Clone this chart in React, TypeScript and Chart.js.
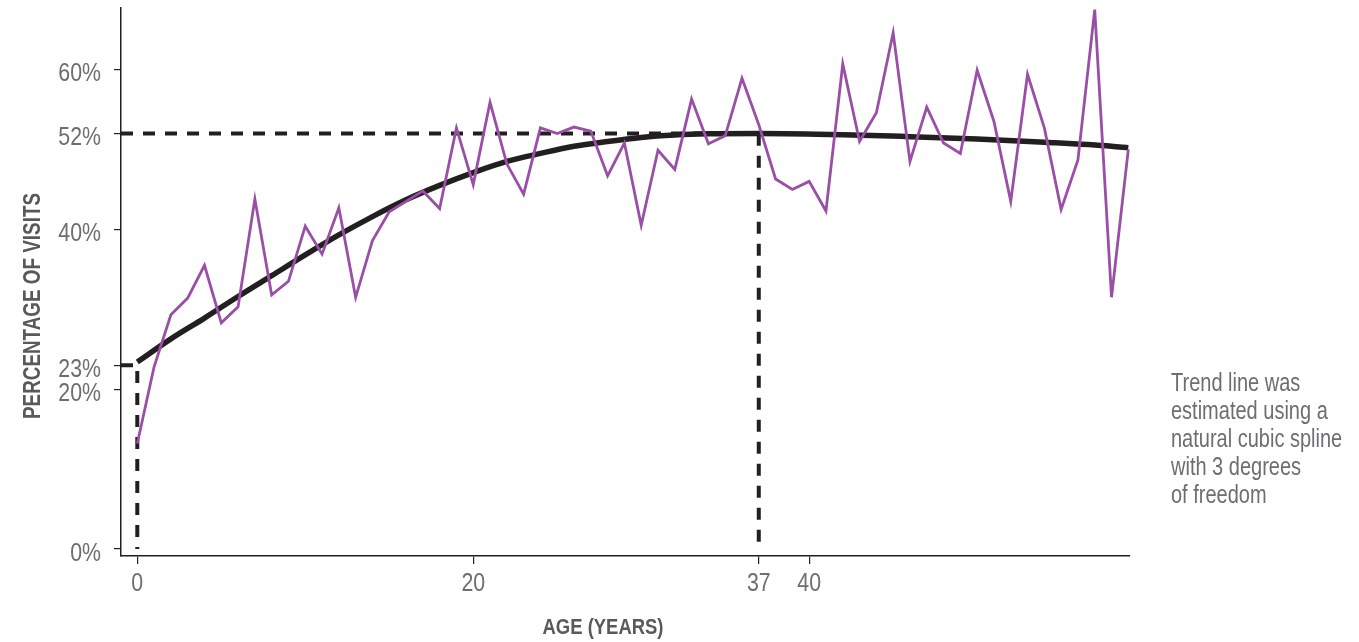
import React, { useEffect, useRef } from 'react';
import { Chart, registerables } from 'chart.js';

Chart.register(...registerables);

// ---- data ----
const ages = [
  0, 1, 2, 3, 4, 5, 6, 7, 8, 9, 10, 11, 12, 13, 14, 15, 16, 17, 18, 19,
  20, 21, 22, 23, 24, 25, 26, 27, 28, 29, 30, 31, 32, 33, 34, 35, 36, 37, 38, 39,
  40, 41, 42, 43, 44, 45, 46, 47, 48, 49, 50, 51, 52, 53, 54, 55, 56, 57, 58, 59,
];
const visitPct = [
  13.2, 22.8, 29.3, 31.4, 35.5, 28.3, 30.3, 43.8, 31.8, 33.5,
  40.4, 36.9, 42.7, 31.5, 38.6, 42.2, 43.5, 44.8, 42.6, 52.7,
  45.6, 55.9, 48.2, 44.4, 52.7, 52.0, 52.8, 52.3, 46.7, 50.8,
  40.5, 49.9, 47.5, 56.3, 50.7, 51.7, 58.9, 53.1, 46.3, 45.0,
  46.0, 42.3, 60.7, 51.0, 54.6, 64.6, 48.5, 55.3, 50.8, 49.5,
  59.9, 53.5, 43.5, 59.4, 52.7, 42.5, 48.7, 67.5, 31.5, 50.0,
];
const trendAges = [0, 2, 4, 6, 8, 10, 12, 14, 16, 18, 20, 22, 24, 26, 28, 30, 32, 34, 37, 42, 46, 50, 54, 58, 59];
const trendPct = [23.4, 26.3, 28.9, 31.6, 34.2, 36.8, 39.3, 41.6, 43.7, 45.5, 47.1, 48.5, 49.5, 50.4, 51.0, 51.5, 51.8, 51.95, 52.0, 51.85, 51.6, 51.3, 50.9, 50.4, 50.2];

const xTickValues = [0, 20, 37, 40];
const yTickValues = [0, 20, 23, 40, 52, 60];
const startAge = 0;
const startPct = 23;
const peakAge = 37;
const peakPct = 52;

const xTitle = 'AGE (YEARS)';
const yTitle = 'PERCENTAGE OF VISITS';
const noteLines = ['Trend line was', 'estimated using a', 'natural cubic spline', 'with 3 degrees', 'of freedom'];

// ---- style ----
const FONT = "'Liberation Sans', Arial, sans-serif";
const NARROW = 0.82;
const INK = '#231f20';
const PURPLE = '#9a4fa6';
const TICK_GREY = '#6d6e71';
const TITLE_GREY = '#58595b';
const X_MIN = -0.97;
const X_MAX = 59.1;
const Y_MIN = -0.875;
const Y_MAX = 67.7;

function narrowText(ctx: any, text: string, x: number, y: number, align: string, sx = NARROW) {
  ctx.save();
  ctx.translate(x, y);
  ctx.scale(sx, 1);
  ctx.textAlign = align;
  ctx.fillText(text, 0, 0);
  ctx.restore();
}

const textPlugin = {
  id: 'textPlugin',
  afterDraw(chart: any) {
    const ctx = chart.ctx;
    const xs = chart.scales.x;
    const ys = chart.scales.y;
    ctx.save();
    ctx.textBaseline = 'alphabetic';
    // tick labels
    ctx.fillStyle = TICK_GREY;
    ctx.font = `26px ${FONT}`;
    yTickValues.forEach((v) => {
      const py = ys.getPixelForValue(v);
      narrowText(ctx, `${v}%`, 101, py + 11.5, 'right');
    });
    xTickValues.forEach((v) => {
      const px = xs.getPixelForValue(v);
      narrowText(ctx, String(v), px, 591, 'center');
    });
    // x title
    ctx.fillStyle = TITLE_GREY;
    ctx.font = `bold 22.5px ${FONT}`;
    narrowText(ctx, xTitle, 603, 634, 'center');
    // y title
    ctx.font = `bold 23px ${FONT}`;
    ctx.save();
    ctx.translate(40, 306);
    ctx.rotate(-Math.PI / 2);
    narrowText(ctx, yTitle, 0, 0, 'center');
    ctx.restore();
    // note
    ctx.fillStyle = TICK_GREY;
    ctx.font = `25px ${FONT}`;
    noteLines.forEach((line, i) => {
      narrowText(ctx, line, 1171, 391 + i * 28, 'left', 0.8);
    });
    ctx.restore();
  },
};

export default function App() {
  const canvasRef = useRef<HTMLCanvasElement | null>(null);

  useEffect(() => {
    const canvas = canvasRef.current;
    if (!canvas) return;
    const chart = new Chart(canvas, {
      type: 'line',
      data: {
        datasets: [
          {
            data: ages.map((a, i) => ({ x: a, y: visitPct[i] })),
            borderColor: PURPLE,
            borderWidth: 2.8,
            pointRadius: 0,
            tension: 0,
            fill: false,
            order: 0,
          },
          {
            data: trendAges.map((a, i) => ({ x: a, y: trendPct[i] })),
            borderColor: INK,
            borderWidth: 5.5,
            pointRadius: 0,
            cubicInterpolationMode: 'monotone',
            borderCapStyle: 'butt',
            fill: false,
            order: 1,
          },
          {
            data: [
              { x: X_MIN, y: peakPct },
              { x: peakAge, y: peakPct },
              { x: peakAge, y: 0 },
            ],
            borderColor: INK,
            borderWidth: 4,
            borderDash: [12, 10],
            pointRadius: 0,
            tension: 0,
            fill: false,
            order: 2,
          },
          {
            data: [
              { x: X_MIN, y: startPct },
              { x: startAge, y: startPct },
              { x: startAge, y: 0 },
            ],
            borderColor: INK,
            borderWidth: 4,
            borderDash: [12, 10],
            pointRadius: 0,
            tension: 0,
            fill: false,
            order: 3,
          },
        ],
      } as any,
      options: {
        animation: false,
        responsive: false,
        devicePixelRatio: 1,
        layout: { padding: { top: 8, right: 229, bottom: 0, left: 0 } },
        plugins: { legend: { display: false }, tooltip: { enabled: false } },
        scales: {
          x: {
            type: 'linear',
            min: X_MIN,
            max: X_MAX,
            afterBuildTicks: (s: any) => {
              s.ticks = xTickValues.map((v) => ({ value: v }));
            },
            afterFit: (s: any) => {
              s.height = 86;
              s.paddingLeft = 0;
              s.paddingRight = 0;
            },
            ticks: { display: false, autoSkip: false, maxRotation: 0 },
            grid: { drawOnChartArea: false, drawTicks: true, tickLength: 8, color: INK, lineWidth: 1.2 },
            border: { display: true, color: INK, width: 1.5 },
          },
          y: {
            type: 'linear',
            min: Y_MIN,
            max: Y_MAX,
            afterBuildTicks: (s: any) => {
              s.ticks = yTickValues.map((v) => ({ value: v }));
            },
            afterFit: (s: any) => {
              s.width = 121;
              s.paddingTop = 0;
              s.paddingBottom = 0;
            },
            ticks: { display: false, autoSkip: false },
            grid: { drawOnChartArea: false, drawTicks: true, tickLength: 7, color: INK, lineWidth: 1.2 },
            border: { display: true, color: INK, width: 1.5 },
          },
        },
      } as any,
      plugins: [textPlugin],
    });
    return () => chart.destroy();
  }, []);

  return (
    <div style={{ position: 'absolute', left: 0, top: 0, width: 1359, height: 642, background: '#fff' }}>
      <canvas ref={canvasRef} width={1359} height={642} style={{ display: 'block' }} />
    </div>
  );
}
